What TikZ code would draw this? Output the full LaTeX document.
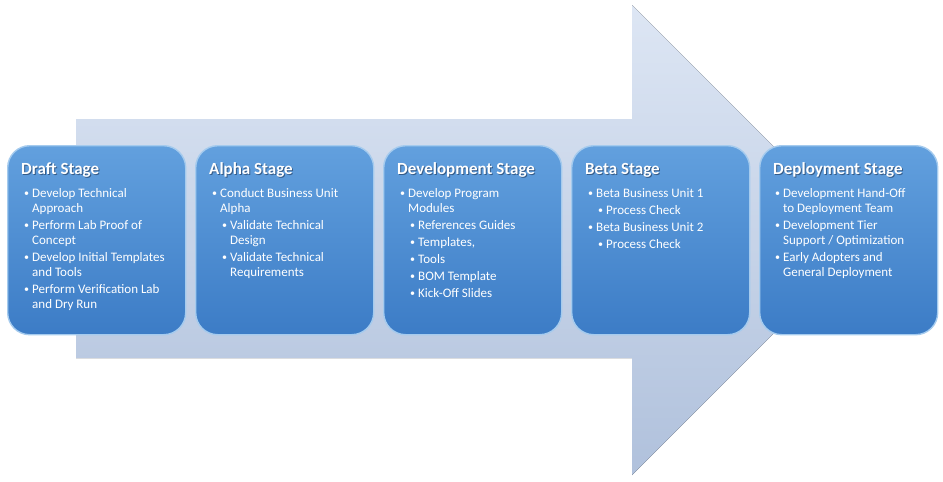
\documentclass[tikz,border=0pt]{standalone}
\usepackage{fontspec}
\setmainfont{Carlito}
\definecolor{boxtop}{RGB}{98,160,222}
\definecolor{boxbot}{RGB}{60,124,198}
\definecolor{boxedge}{RGB}{165,203,238}
\definecolor{arrtop}{RGB}{221,230,244}
\definecolor{arrbot}{RGB}{176,193,220}
\definecolor{shadowc}{RGB}{20,40,70}
\newcommand{\bul}{\raisebox{0.6pt}{\fontsize{10}{10}\selectfont\textbullet}}
\newcommand{\bitem}[1]{\par\hangindent=8pt\hangafter=1\noindent\makebox[8pt][l]{\bul}#1}
\newcommand{\sitem}[1]{\par\hangindent=18pt\hangafter=1\noindent\hspace*{10pt}\makebox[8pt][l]{\bul}#1}
\newcommand{\isep}{\par\vspace{2pt}}
\tikzset{
  stagebox/.style={draw=boxedge, line width=1.4pt, rounded corners=22pt,
    top color=boxtop, bottom color=boxbot, minimum width=178pt,
    minimum height=189pt, inner sep=0pt, anchor=north west},
  titletext/.style={font=\bfseries\fontsize{17}{20}\selectfont, text=white,
    anchor=base west, inner sep=0pt},
  titleshadow/.style={titletext, text=shadowc, opacity=0.55},
  bodytext/.style={font=\fontsize{13}{15}\selectfont, text=white,
    anchor=base west, inner sep=0pt},
  bigarrow/.style={top color=arrtop, bottom color=arrbot}
}
\begin{document}
\begin{tikzpicture}[x=1pt,y=-1pt]
\useasboundingbox (0,0) rectangle (943,482);
% background arrow
\fill[bigarrow] (76,119) -- (632,119) -- (632,5) -- (867,240) -- (632,475)
  -- (632,358) -- (76,358) -- cycle;
% stage boxes
\node[stagebox] (draft) at (7,145) {};
\node[stagebox] (alpha) at (195,145) {};
\node[stagebox] (devel) at (383,145) {};
\node[stagebox] (beta) at (571,145) {};
\node[stagebox] (deploy) at (759,145) {};
% titles
\node[titleshadow] (draftS) at (22,175) {Draft Stage};
\node[titletext] (draftT) at (21,174) {Draft Stage};
\node[titleshadow] (alphaS) at (210,175) {Alpha Stage};
\node[titletext] (alphaT) at (209,174) {Alpha Stage};
\node[titleshadow] (develS) at (398,175) {Development Stage};
\node[titletext] (develT) at (397,174) {Development Stage};
\node[titleshadow] (betaS) at (586,175) {Beta Stage};
\node[titletext] (betaT) at (585,174) {Beta Stage};
\node[titleshadow] (deployS) at (774,175) {Deployment Stage};
\node[titletext] (deployT) at (773,174) {Deployment Stage};
% bodies
\node[bodytext] (draftB) at (24,197) {\parbox[t]{170pt}{%
  \bitem{Develop Technical\\Approach}\isep
  \bitem{Perform Lab Proof of\\Concept}\isep
  \bitem{Develop Initial Templates\\and Tools}\isep
  \bitem{Perform Verification Lab\\and Dry Run}}};
\node[bodytext] (alphaB) at (212,197) {\parbox[t]{170pt}{%
  \bitem{Conduct Business Unit\\Alpha}\isep
  \sitem{Validate Technical\\Design}\isep
  \sitem{Validate Technical\\Requirements}}};
\node[bodytext] (develB) at (400,197) {\parbox[t]{170pt}{%
  \bitem{Develop Program\\Modules}\isep
  \sitem{References Guides}\isep
  \sitem{Templates,}\isep
  \sitem{Tools}\isep
  \sitem{BOM Template}\isep
  \sitem{Kick-Off Slides}}};
\node[bodytext] (betaB) at (588,197) {\parbox[t]{170pt}{%
  \bitem{Beta Business Unit 1}\isep
  \sitem{Process Check}\isep
  \bitem{Beta Business Unit 2}\isep
  \sitem{Process Check}}};
\node[bodytext] (deployB) at (775,197) {\parbox[t]{170pt}{%
  \bitem{Development Hand-Off\\to Deployment Team}\isep
  \bitem{Development Tier\\Support / Optimization}\isep
  \bitem{Early Adopters and\\General Deployment}}};
\end{tikzpicture}
\end{document}
